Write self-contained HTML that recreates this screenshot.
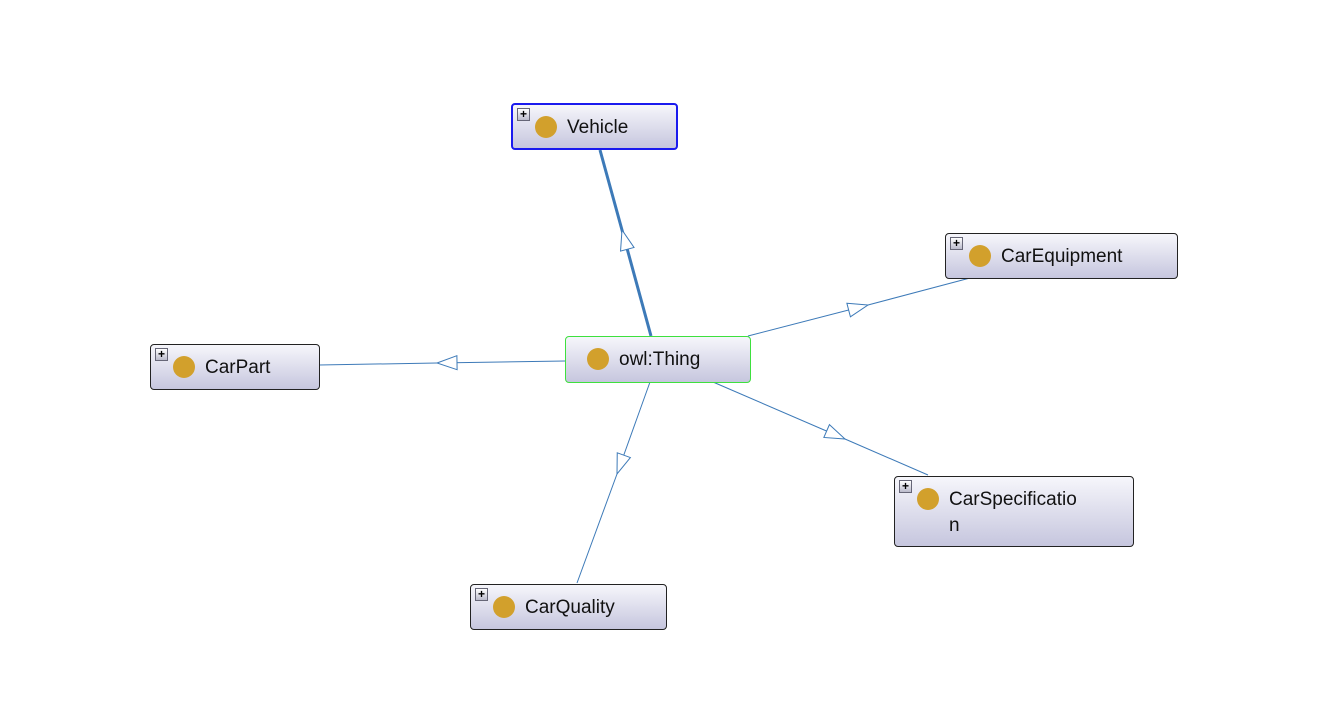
<!DOCTYPE html>
<html><head><meta charset="utf-8"><style>
body{margin:0;width:1323px;height:728px;background:#fff;position:relative;overflow:hidden;font-family:"Liberation Sans",sans-serif}
.n{position:absolute;box-sizing:border-box;border:1px solid #222;border-radius:4px;background:linear-gradient(#f6f6fb,#c6c6de)}
.n .c{position:absolute;width:22px;height:22px;border-radius:50%;background:#d2a02c;top:11px}
.n .t{position:absolute;font-size:19px;color:#111;top:10px;line-height:26px}
.n .p{position:absolute;left:4px;top:3px;width:11px;height:11px;border:1px solid #667;background:linear-gradient(#fff,#bbc);font-size:12px;line-height:10px;text-align:center;font-weight:bold;color:#000}
</style></head><body>
<svg width="1323" height="728" style="position:absolute;left:0;top:0">
<defs><marker id="a" markerUnits="userSpaceOnUse" markerWidth="24" markerHeight="18" refX="22" refY="8" orient="auto"><path d="M2,1 L22,8 L2,15 Z" fill="#fff" stroke="#3d7ab8" stroke-width="1"/></marker></defs>
<g fill="none" stroke="#3d7ab8" stroke-width="1">
<polyline points="651,336 622,230 600,150" stroke-width="3" marker-mid="url(#a)"/>
<polyline points="748,336 868,305 970,278" marker-mid="url(#a)"/>
<polyline points="565,361 437,363 319,365" marker-mid="url(#a)"/>
<polyline points="713,382 845,439 928,475" marker-mid="url(#a)"/>
<polyline points="650,382 617,474 577,583" marker-mid="url(#a)"/>
</g></svg>
<div class="n" style="left:511px;top:103px;width:167px;height:47px;border:2px solid #1a1aee"><div class="p">+</div><div class="c" style="left:22px"></div><div class="t" style="left:54px">Vehicle</div></div>
<div class="n" style="left:945px;top:233px;width:233px;height:46px"><div class="p">+</div><div class="c" style="left:23px"></div><div class="t" style="left:55px">CarEquipment</div></div>
<div class="n" style="left:565px;top:336px;width:186px;height:47px;border:1px solid #3ee03e"><div class="c" style="left:21px"></div><div class="t" style="left:53px">owl:Thing</div></div>
<div class="n" style="left:150px;top:344px;width:170px;height:46px"><div class="p">+</div><div class="c" style="left:22px"></div><div class="t" style="left:54px">CarPart</div></div>
<div class="n" style="left:894px;top:476px;width:240px;height:71px"><div class="p">+</div><div class="c" style="left:22px"></div><div class="t" style="left:54px">CarSpecificatio<br>n</div></div>
<div class="n" style="left:470px;top:584px;width:197px;height:46px"><div class="p">+</div><div class="c" style="left:22px"></div><div class="t" style="left:54px">CarQuality</div></div>
</body></html>
